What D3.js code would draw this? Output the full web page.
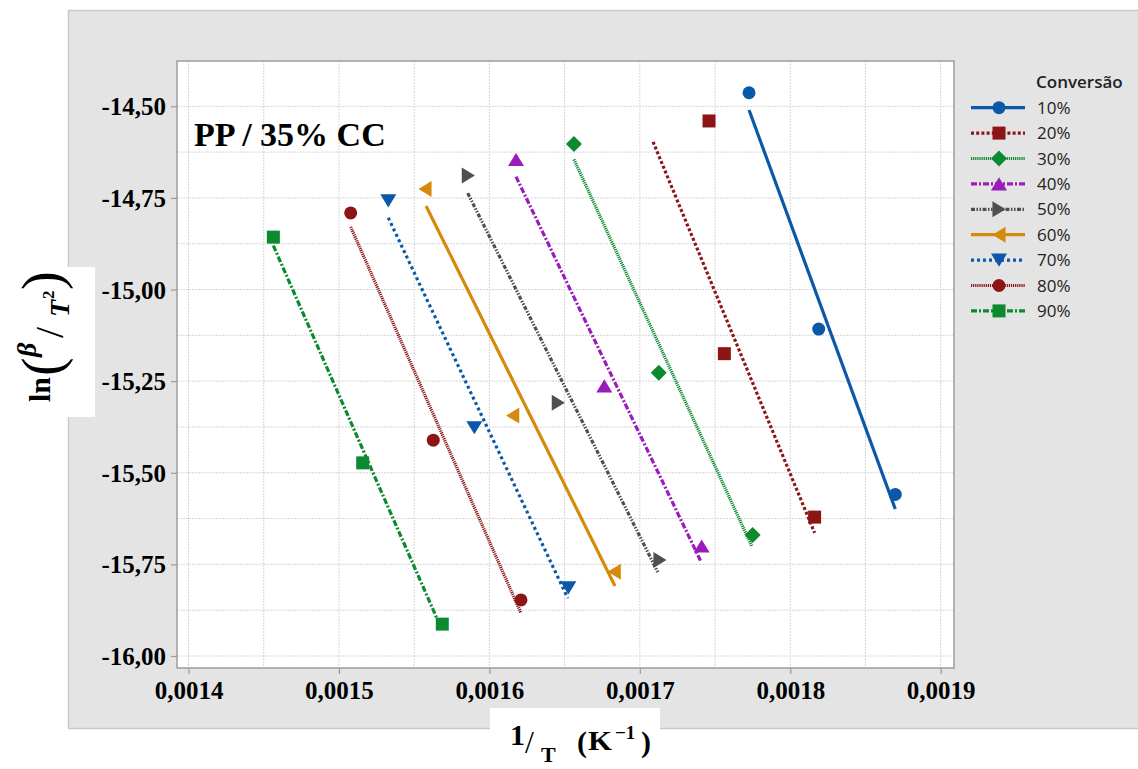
<!DOCTYPE html>
<html>
<head>
<meta charset="utf-8">
<script src="https://cdn.jsdelivr.net/npm/d3@7"></script>
<style>
  body { margin: 0; background: #ffffff; }
  svg { display: block; }
</style>
</head>
<body>
<svg id="chart" width="1138" height="769"></svg>
<script>
// Conversion levels (legend entries)
const conversoes = ["10%", "20%", "30%", "40%", "50%", "60%", "70%", "80%", "90%"];

// 1/T (K^-1) for each conversion level, three heating rates each
const inverseT = [
  [0.0017726, 0.0018189, 0.0018698],
  [0.0017460, 0.0017562, 0.0018162],
  [0.0016562, 0.0017126, 0.0017750],
  [0.0016177, 0.0016764, 0.0017411],
  [0.0015860, 0.0016458, 0.0017134],
  [0.0015572, 0.0016155, 0.0016830],
  [0.0015328, 0.0015900, 0.0016525],
  [0.0015078, 0.0015627, 0.0016210],
  [0.0014564, 0.0015158, 0.0015687]
];

// ln(beta / T^2) for each conversion level
const lnBetaT2 = [
  [-14.463, -15.108, -15.559],
  [-14.540, -15.175, -15.621],
  [-14.603, -15.227, -15.670],
  [-14.645, -15.263, -15.700],
  [-14.689, -15.309, -15.738],
  [-14.726, -15.344, -15.770],
  [-14.758, -15.377, -15.814],
  [-14.791, -15.411, -15.847],
  [-14.857, -15.473, -15.913]
];

// Fitted straight lines: start and end of each fit, as 1/T and ln(beta/T^2)
const fitInverseT = [
  [0.0017726, 0.0018698],
  [0.0017088, 0.0018162],
  [0.0016562, 0.0017744],
  [0.0016177, 0.0017407],
  [0.0015856, 0.0017123],
  [0.0015579, 0.0016835],
  [0.0015328, 0.0016521],
  [0.0015078, 0.0016210],
  [0.0014564, 0.0015685]
];
const fitLnBetaT2 = [
  [-14.510, -15.599],
  [-14.597, -15.664],
  [-14.645, -15.700],
  [-14.692, -15.743],
  [-14.737, -15.774],
  [-14.772, -15.809],
  [-14.804, -15.842],
  [-14.829, -15.883],
  [-14.880, -15.929]
];

// Axis tick values
const xTickValues = [0.0014, 0.0015, 0.0016, 0.0017, 0.0018, 0.0019];
const yTickValues = [-14.50, -14.75, -15.00, -15.25, -15.50, -15.75, -16.00];

// Series styling
const seriesColors = ["#0b58a8", "#8e1515", "#0b8a2f", "#9a1cba", "#4f4f4f", "#d58a0c", "#0b58a8", "#8e1515", "#0b8a2f"];
const seriesDash = [null, "3,2.2", "1.2,0.9", "6,2,2,2", "4,1.5,1.5,1.5,1.5,1.5", null, "3,3", "1.2,0.9", "6,2,2,2"];
const seriesShapes = ["circle", "square", "diamond", "triUp", "triRight", "triLeft", "triDown", "circle", "square"];

const svg = d3.select("#chart");
const serif = "'Liberation Serif', 'Times New Roman', serif";
const sans = "'Open Sans', 'Noto Sans', sans-serif";

// Outer panel
svg.append("rect").attr("x", 68.5).attr("y", 10.5).attr("width", 1075).attr("height", 718)
  .attr("fill", "#e4e4e4").attr("stroke", "#c9c9c9").attr("stroke-width", 1.5);

// Plot frame
const plot = { left: 177, top: 61, right: 954, bottom: 668 };
svg.append("rect").attr("x", plot.left).attr("y", plot.top)
  .attr("width", plot.right - plot.left).attr("height", plot.bottom - plot.top)
  .attr("fill", "#ffffff");

const x = d3.scaleLinear().domain([0.0014, 0.0019]).range([188.5, 940.7]);
const y = d3.scaleLinear().domain([-14.5, -16.0]).range([106.3, 656]);

const fmt = d3.formatLocale({ decimal: ",", thousands: ".", grouping: [3], currency: ["", ""], minus: "-" });

// Grid lines
const gridG = svg.append("g");
gridG.selectAll("line.vx").data(d3.range(0, 11).map(i => 0.0014 + i * 0.00005))
  .join("line")
  .attr("x1", d => x(d)).attr("x2", d => x(d))
  .attr("y1", plot.top).attr("y2", plot.bottom)
  .attr("stroke", "#d6d6d6").attr("stroke-width", 1).attr("stroke-dasharray", "2,1");
gridG.selectAll("line.hy").data(d3.range(0, 13).map(i => -14.5 - i * 0.125))
  .join("line")
  .attr("y1", d => y(d)).attr("y2", d => y(d))
  .attr("x1", plot.left).attr("x2", plot.right)
  .attr("stroke", "#d6d6d6").attr("stroke-width", 1).attr("stroke-dasharray", "2,1");

// Axes
const xAxis = svg.append("g").attr("transform", `translate(0,${plot.bottom})`)
  .call(d3.axisBottom(x).tickValues(xTickValues).tickFormat(fmt.format(".4f")).tickSize(6).tickPadding(7));
const yAxis = svg.append("g").attr("transform", `translate(${plot.left},0)`)
  .call(d3.axisLeft(y).tickValues(yTickValues).tickFormat(fmt.format(".2f")).tickSize(6).tickPadding(5));
[xAxis, yAxis].forEach(a => {
  a.select(".domain").remove();
  a.selectAll(".tick line").attr("stroke", "#9a9a9a").attr("stroke-width", 1.2);
  a.selectAll(".tick text").attr("fill", "#000").style("font-family", serif)
    .style("font-weight", "bold").style("font-size", "25px");
});
yAxis.selectAll(".tick text").attr("dy", "0.34em");
xAxis.selectAll(".tick text").attr("dy", "0.72em");

// Frame border on top of grid
svg.append("rect").attr("x", plot.left).attr("y", plot.top)
  .attr("width", plot.right - plot.left).attr("height", plot.bottom - plot.top)
  .attr("fill", "none").attr("stroke", "#a2a2a2").attr("stroke-width", 1.6);

// Marker shapes (size = overall pixel width)
const shapeDraw = {
  circle: (c, s) => { c.moveTo(s / 2, 0); c.arc(0, 0, s / 2, 0, 2 * Math.PI); },
  square: (c, s) => { const h = s / 2; c.rect(-h, -h, s, s); },
  diamond: (c, s) => { const h = s / 2; c.moveTo(0, -h); c.lineTo(h, 0); c.lineTo(0, h); c.lineTo(-h, 0); c.closePath(); },
  triUp: (c, s) => { const w = s / 2, h = s * 0.41; c.moveTo(0, -h); c.lineTo(w, h); c.lineTo(-w, h); c.closePath(); },
  triDown: (c, s) => { const w = s / 2, h = s * 0.41; c.moveTo(0, h); c.lineTo(w, -h); c.lineTo(-w, -h); c.closePath(); },
  triRight: (c, s) => { const w = s / 2, h = s * 0.41; c.moveTo(h, 0); c.lineTo(-h, w); c.lineTo(-h, -w); c.closePath(); },
  triLeft: (c, s) => { const w = s / 2, h = s * 0.41; c.moveTo(-h, 0); c.lineTo(h, w); c.lineTo(h, -w); c.closePath(); }
};
const shapeSize = { circle: 13, square: 13, diamond: 16, triUp: 16, triDown: 16, triRight: 16, triLeft: 16 };
const symbolPath = name => d3.symbol().type({ draw: shapeDraw[name] }).size(shapeSize[name])();

const series = conversoes.map((name, i) => ({
  name, color: seriesColors[i], dash: seriesDash[i], shape: seriesShapes[i],
  points: inverseT[i].map((v, j) => [v, lnBetaT2[i][j]]),
  line: fitInverseT[i].map((v, j) => [v, fitLnBetaT2[i][j]])
}));

const lineGen = d3.line().x(d => x(d[0])).y(d => y(d[1]));
const marks = svg.append("g");
series.forEach(s => {
  marks.append("path").attr("d", lineGen(s.line)).attr("fill", "none")
    .attr("stroke", s.color).attr("stroke-width", 3.2)
    .attr("stroke-dasharray", s.dash);
});
series.forEach(s => {
  marks.selectAll(null).data(s.points).join("path")
    .attr("transform", d => `translate(${x(d[0])},${y(d[1])})`)
    .attr("d", symbolPath(s.shape)).attr("fill", s.color);
});

// Title inside the plot
svg.append("text").attr("x", 194).attr("y", 146).text("PP / 35% CC")
  .style("font-family", serif).style("font-weight", "bold").style("font-size", "34px").attr("fill", "#000");

// Legend
const legend = svg.append("g");
legend.append("text").attr("x", 1036).attr("y", 88).text("Conversão")
  .style("font-family", sans).style("font-size", "17px").style("font-weight", "600").attr("fill", "#222");
series.forEach((s, i) => {
  const ly = 107.7 + i * 25.4;
  legend.append("line").attr("x1", 971).attr("x2", 1025).attr("y1", ly).attr("y2", ly)
    .attr("stroke", s.color).attr("stroke-width", 3.2).attr("stroke-dasharray", s.dash);
  legend.append("path").attr("transform", `translate(999,${ly})`).attr("d", symbolPath(s.shape)).attr("fill", s.color);
  legend.append("text").attr("x", 1037).attr("y", ly).attr("dy", "0.36em").text(s.name)
    .style("font-family", sans).style("font-size", "17px").attr("fill", "#222");
});

// Y axis title: ln(β/T²)
svg.append("rect").attr("x", 20).attr("y", 267).attr("width", 75).attr("height", 150).attr("fill", "#ffffff");
const yt = svg.append("g").attr("transform", "translate(50,402) rotate(-90)")
  .style("font-family", serif).attr("fill", "#000");
yt.append("text").attr("x", 0).attr("y", 0).text("ln").style("font-size", "30px").style("font-weight", "bold");
yt.append("text").attr("x", 26).attr("y", 11).text("(").style("font-size", "56px");
yt.append("text").attr("x", 45).attr("y", -14).text("β").style("font-size", "28px").style("font-weight", "bold").style("font-style", "italic");
yt.append("text").attr("x", 64).attr("y", 13).text("/").style("font-size", "40px");
yt.append("text").attr("x", 85).attr("y", 19).text("T").style("font-size", "28px").style("font-weight", "bold").style("font-style", "italic");
yt.append("text").attr("x", 103).attr("y", 4).text("2").style("font-size", "17px").style("font-weight", "bold");
yt.append("text").attr("x", 112).attr("y", 11).text(")").style("font-size", "56px");

// X axis title: 1/T (K⁻¹)
svg.append("rect").attr("x", 490).attr("y", 708).attr("width", 170).attr("height", 61).attr("fill", "#ffffff");
const xt = svg.append("g").style("font-family", serif).attr("fill", "#000");
xt.append("text").attr("x", 510).attr("y", 745).text("1").style("font-size", "30px").style("font-weight", "bold");
xt.append("text").attr("x", 525).attr("y", 753).text("/").style("font-size", "32px");
xt.append("text").attr("x", 541).attr("y", 762).text("T").style("font-size", "22px").style("font-weight", "bold");
xt.append("text").attr("x", 577).attr("y", 752).text("(").style("font-size", "30px").style("font-weight", "bold");
xt.append("text").attr("x", 588).attr("y", 750).text("K").style("font-size", "27px").style("font-weight", "bold")
  .attr("textLength", 24).attr("lengthAdjust", "spacingAndGlyphs");
xt.append("text").attr("x", 615).attr("y", 739).text("−1").style("font-size", "19px").style("font-weight", "bold");
xt.append("text").attr("x", 641).attr("y", 752).text(")").style("font-size", "30px").style("font-weight", "bold");
</script>
</body>
</html>
